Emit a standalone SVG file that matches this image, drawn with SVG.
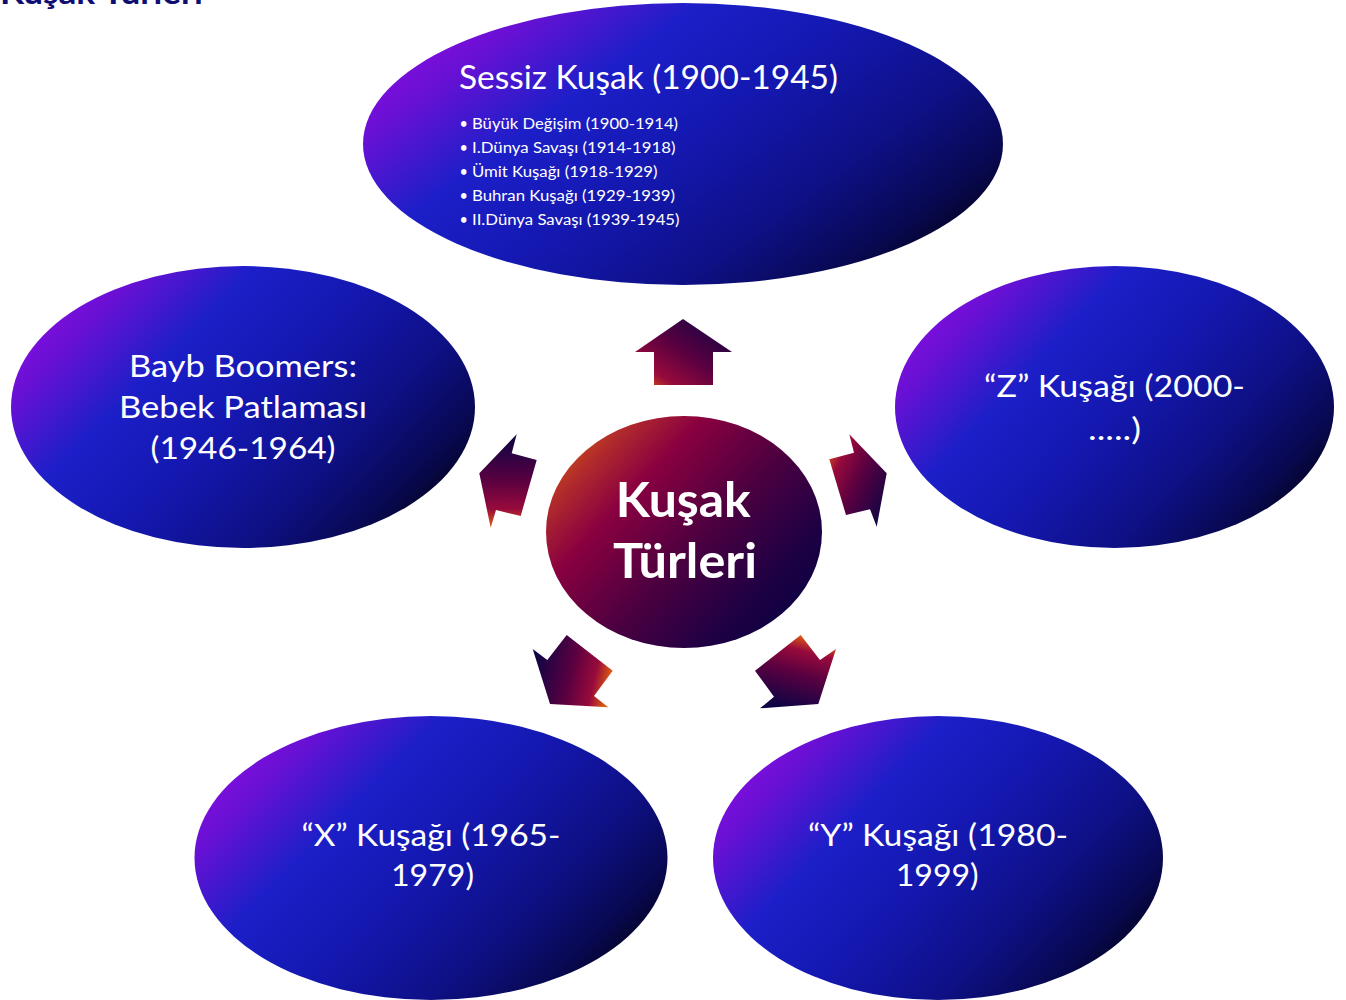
<svg xmlns="http://www.w3.org/2000/svg" width="1346" height="1000" viewBox="0 0 1346 1000">
<defs>
<style>
.t{font-family:Lato,"Open Sans","Liberation Sans",sans-serif;fill:#ffffff;}
.m{font-size:30px;text-anchor:middle;}
.b{font-size:14.5px;}
.c{font-size:47.5px;font-weight:bold;text-anchor:middle;}
.title{font-family:Lato,"Open Sans","Liberation Sans",sans-serif;font-size:32px;font-weight:bold;fill:#0d0d73;}
</style>
<linearGradient id="gBlue" x1="0" y1="0.2" x2="1" y2="0.8">
<stop offset="0" stop-color="#8a0ce0"/>
<stop offset="0.12" stop-color="#6a10d5"/>
<stop offset="0.3" stop-color="#1c1fc8"/>
<stop offset="0.5" stop-color="#1418b0"/>
<stop offset="0.72" stop-color="#0e1085"/>
<stop offset="0.88" stop-color="#080850"/>
<stop offset="1" stop-color="#020210"/>
</linearGradient>
<linearGradient id="gCenter" x1="0" y1="0.1" x2="1" y2="0.9">
<stop offset="0" stop-color="#e0600a"/>
<stop offset="0.15" stop-color="#b02a2c"/>
<stop offset="0.3" stop-color="#8a0040"/>
<stop offset="0.55" stop-color="#4c0040"/>
<stop offset="0.8" stop-color="#1c0044"/>
<stop offset="1" stop-color="#050040"/>
</linearGradient>
<linearGradient id="gUp" x1="0" y1="1" x2="1" y2="0">
<stop offset="0" stop-color="#e0600f"/>
<stop offset="0.2" stop-color="#980a3c"/>
<stop offset="0.5" stop-color="#5a0040"/>
<stop offset="1" stop-color="#0a0545"/>
</linearGradient>
<linearGradient id="gUL" x1="0.5" y1="1" x2="0.5" y2="0">
<stop offset="0" stop-color="#e0600f"/>
<stop offset="0.2" stop-color="#980a3c"/>
<stop offset="0.5" stop-color="#5a0040"/>
<stop offset="1" stop-color="#0a0545"/>
</linearGradient>
<linearGradient id="gUR" x1="0" y1="0.1" x2="1" y2="0.9">
<stop offset="0" stop-color="#e0600f"/>
<stop offset="0.2" stop-color="#980a3c"/>
<stop offset="0.5" stop-color="#5a0040"/>
<stop offset="1" stop-color="#0a0545"/>
</linearGradient>
<linearGradient id="gBL" x1="1" y1="0.5" x2="0" y2="0.3">
<stop offset="0" stop-color="#e0600f"/>
<stop offset="0.2" stop-color="#980a3c"/>
<stop offset="0.5" stop-color="#5a0040"/>
<stop offset="1" stop-color="#0a0545"/>
</linearGradient>
<linearGradient id="gBR" x1="0.6" y1="0" x2="0.3" y2="1">
<stop offset="0" stop-color="#e0600f"/>
<stop offset="0.2" stop-color="#980a3c"/>
<stop offset="0.5" stop-color="#5a0040"/>
<stop offset="1" stop-color="#0a0545"/>
</linearGradient>
</defs>
<rect width="1346" height="1000" fill="#ffffff"/>
<text class="title" x="0" y="4" textLength="203" lengthAdjust="spacingAndGlyphs">Kuşak Türleri</text>

<g id="connectors">
<polygon id="arrow-up" fill="url(#gUp)" points="683,319 732,352 713,352 713,385 654,385 654,352 635,352"/>
<polygon id="arrow-upper-left" fill="url(#gUL)" points="516.7,434.3 511.7,453.3 536.7,460 520.7,516 496,510 490.7,527.7 479.3,473.3"/>
<polygon id="arrow-upper-right" fill="url(#gUR)" points="849.3,434.3 886.7,473.3 876.7,526.7 870,509.3 846,515 829.3,459.3 854,452.7"/>
<polygon id="arrow-lower-left" fill="url(#gBL)" points="532.7,649 547.3,660 566.7,635 612.7,670.7 594,696 608.3,707.3 550,704"/>
<polygon id="arrow-lower-right" fill="url(#gBR)" points="800.7,635 820,660 836,649 818.3,704 760,708.3 774,696.7 755,670.7"/>
</g>

<g id="node-sessiz">
<ellipse cx="683" cy="144" rx="320" ry="141" fill="url(#gBlue)"/>
<text class="t" x="459" y="88.5" font-size="32" textLength="379" lengthAdjust="spacingAndGlyphs">Sessiz Kuşak (1900-1945)</text>
<text class="t b" x="459.5" y="129.3">•</text>
<text class="t b" x="472" y="129.3" textLength="206" lengthAdjust="spacingAndGlyphs">Büyük Değişim (1900-1914)</text>
<text class="t b" x="459.5" y="153.3">•</text>
<text class="t b" x="472" y="153.3" textLength="203.5" lengthAdjust="spacingAndGlyphs">I.Dünya Savaşı (1914-1918)</text>
<text class="t b" x="459.5" y="177.3">•</text>
<text class="t b" x="472" y="177.3" textLength="185.5" lengthAdjust="spacingAndGlyphs">Ümit Kuşağı (1918-1929)</text>
<text class="t b" x="459.5" y="201.3">•</text>
<text class="t b" x="472" y="201.3" textLength="203" lengthAdjust="spacingAndGlyphs">Buhran Kuşağı (1929-1939)</text>
<text class="t b" x="459.5" y="225.3">•</text>
<text class="t b" x="472" y="225.3" textLength="207.5" lengthAdjust="spacingAndGlyphs">II.Dünya Savaşı (1939-1945)</text>
</g>

<g id="node-baby-boomers">
<ellipse cx="243" cy="407" rx="232" ry="141" fill="url(#gBlue)"/>
<text class="t m" x="243" y="377" textLength="228" lengthAdjust="spacingAndGlyphs">Bayb Boomers:</text>
<text class="t m" x="243" y="418" textLength="248" lengthAdjust="spacingAndGlyphs">Bebek Patlaması</text>
<text class="t m" x="243" y="458.5" textLength="185" lengthAdjust="spacingAndGlyphs">(1946-1964)</text>
</g>

<g id="node-z">
<ellipse cx="1114.5" cy="407" rx="219.5" ry="141" fill="url(#gBlue)"/>
<text class="t m" x="1114.5" y="396.5" textLength="261" lengthAdjust="spacingAndGlyphs">“Z” Kuşağı (2000-</text>
<text class="t m" x="1114.5" y="439.5" textLength="53" lengthAdjust="spacingAndGlyphs">.....)</text>
</g>

<g id="node-x">
<ellipse cx="431" cy="858" rx="236.5" ry="142" fill="url(#gBlue)"/>
<text class="t m" x="431" y="846" textLength="259" lengthAdjust="spacingAndGlyphs">“X” Kuşağı (1965-</text>
<text class="t m" x="432.5" y="886" textLength="83" lengthAdjust="spacingAndGlyphs">1979)</text>
</g>

<g id="node-y">
<ellipse cx="938" cy="858" rx="225" ry="142" fill="url(#gBlue)"/>
<text class="t m" x="938" y="846" textLength="260" lengthAdjust="spacingAndGlyphs">“Y” Kuşağı (1980-</text>
<text class="t m" x="937.2" y="886" textLength="83" lengthAdjust="spacingAndGlyphs">1999)</text>
</g>

<g id="node-center">
<ellipse cx="684" cy="532" rx="138" ry="116" fill="url(#gCenter)"/>
<text class="t c" x="683.3" y="516.7" textLength="135" lengthAdjust="spacingAndGlyphs">Kuşak</text>
<text class="t c" x="685" y="578.3" textLength="144" lengthAdjust="spacingAndGlyphs">Türleri</text>
</g>
</svg>
